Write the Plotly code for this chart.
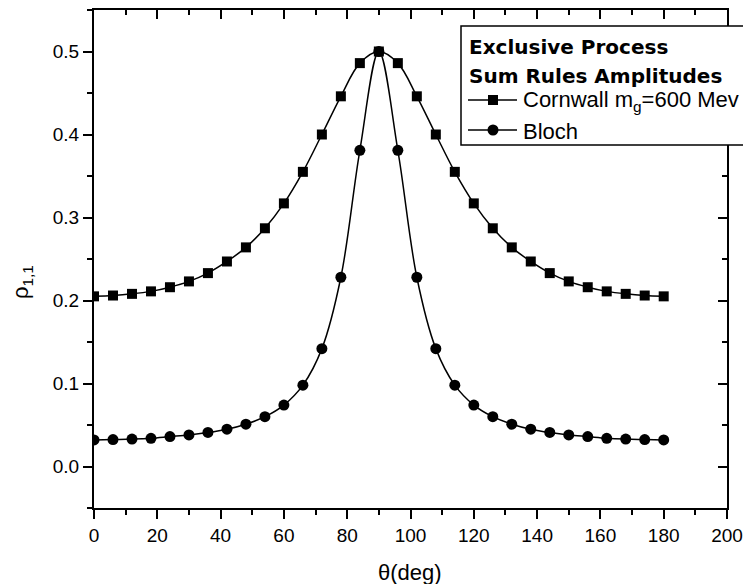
import plotly.graph_objects as go

# ---- data ----
theta = [0, 6, 12, 18, 24, 30, 36, 42, 48, 54, 60, 66, 72, 78, 84, 90,
         96, 102, 108, 114, 120, 126, 132, 138, 144, 150, 156, 162, 168, 174, 180]
cornwall = [0.205, 0.206, 0.208, 0.211, 0.216, 0.223, 0.233, 0.247, 0.264, 0.287,
            0.317, 0.355, 0.400, 0.446, 0.486, 0.500, 0.486, 0.446, 0.400, 0.355,
            0.317, 0.287, 0.264, 0.247, 0.233, 0.223, 0.216, 0.211, 0.208, 0.206, 0.205]
bloch = [0.032, 0.0325, 0.033, 0.034, 0.036, 0.038, 0.041, 0.045, 0.051, 0.060,
         0.074, 0.098, 0.142, 0.228, 0.381, 0.500, 0.381, 0.228, 0.142, 0.098,
         0.074, 0.060, 0.051, 0.045, 0.041, 0.038, 0.036, 0.034, 0.033, 0.0325, 0.032]
legend_title = ["Exclusive Process", "Sum Rules Amplitudes"]
series_names = ["Cornwall m<sub>g</sub>=600 Mev", "Bloch"]
x_title = "θ(deg)"
y_title = "ρ<sub>1,1</sub>"

# ---- layout geometry ----
# The page body has an 8px margin, so the figure is drawn 8px smaller and
# all screen-pixel positions are shifted by that offset.
OFF = 8
SW, SH = 751, 584                       # screen size
W, H = SW - OFF, SH - OFF               # figure size
PL, PT, PR, PB = 94, 10, 727, 508       # plot area on screen
L, T = PL - OFF, PT - OFF
R, B = W - (PR - OFF), H - (PB - OFF)
pw, ph = W - L - R, H - T - B


def px(x):
    """screen x pixel -> paper coordinate"""
    return (x - PL) / (PR - PL)


def py(y):
    """screen y pixel -> paper coordinate"""
    return (PB - y) / (PB - PT)


FONT = "Liberation Sans, Arial, sans-serif"

fig = go.Figure()
fig.add_trace(go.Scatter(
    x=theta, y=cornwall, mode="lines+markers", name="Cornwall",
    line=dict(color="black", width=1.5, shape="spline", smoothing=1.0),
    marker=dict(symbol="square", size=10, color="black"), showlegend=False))
fig.add_trace(go.Scatter(
    x=theta, y=bloch, mode="lines+markers", name="Bloch",
    line=dict(color="black", width=1.5, shape="spline", smoothing=1.0),
    marker=dict(symbol="circle", size=11, color="black"), showlegend=False))
# empty trace to host the mirrored (top/right) axes
fig.add_trace(go.Scatter(x=[None], y=[None], xaxis="x2", yaxis="y2", showlegend=False,
                         hoverinfo="skip"))

ax_common = dict(showline=True, linewidth=2, linecolor="black", showgrid=False,
                 zeroline=False, tickwidth=2, tickcolor="black", ticklen=9)

fig.update_layout(
    width=W, height=H,
    margin=dict(l=L, r=R, t=T, b=B, pad=0),
    paper_bgcolor="white", plot_bgcolor="white",
    font=dict(family=FONT, color="black"),
    xaxis=dict(range=[0, 200], tick0=0, dtick=20, ticks="outside",
               tickfont=dict(size=19, family=FONT, color="black"),
               minor=dict(dtick=10, ticks="outside", ticklen=5, tickwidth=2,
                          tickcolor="black", showgrid=False),
               **ax_common),
    yaxis=dict(range=[-0.05, 0.55], tick0=0, dtick=0.1, tickformat=".1f",
               ticks="outside", tickfont=dict(size=19, family=FONT, color="black"),
               minor=dict(dtick=0.05, ticks="outside", ticklen=5, tickwidth=2,
                          tickcolor="black", showgrid=False),
               **ax_common),
    xaxis2=dict(range=[0, 200], tick0=0, dtick=20, ticks="inside", overlaying="x",
                side="top", anchor="y", showticklabels=False,
                minor=dict(dtick=10, ticks="inside", ticklen=5, tickwidth=2,
                           tickcolor="black", showgrid=False),
                **ax_common),
    yaxis2=dict(range=[-0.05, 0.55], tick0=0, dtick=0.1, ticks="inside",
                overlaying="y", side="right", anchor="x", showticklabels=False,
                minor=dict(dtick=0.05, ticks="inside", ticklen=5, tickwidth=2,
                           tickcolor="black", showgrid=False),
                **ax_common),
)

# ---- manual legend ----
shapes = [
    dict(type="rect", xref="paper", yref="paper", x0=px(461), x1=px(775),
         y0=py(145), y1=py(26), fillcolor="white",
         line=dict(color="black", width=1.5), layer="above"),
    dict(type="line", xref="paper", yref="paper", x0=px(468), x1=px(517),
         y0=py(100), y1=py(100), line=dict(color="black", width=1.5), layer="above"),
    dict(type="rect", xref="paper", yref="paper", x0=px(488), x1=px(498),
         y0=py(105), y1=py(95), fillcolor="black", line=dict(width=0), layer="above"),
    dict(type="line", xref="paper", yref="paper", x0=px(468), x1=px(517),
         y0=py(130), y1=py(130), line=dict(color="black", width=1.5), layer="above"),
    dict(type="circle", xref="paper", yref="paper", x0=px(487.5), x1=px(498.5),
         y0=py(135.5), y1=py(124.5), fillcolor="black", line=dict(width=0),
         layer="above"),
]
fig.update_layout(shapes=shapes)

annotations = [
    dict(text="<b>" + legend_title[0] + "</b>", x=px(467), y=py(47), xanchor="left",
         yanchor="middle", font=dict(family="DejaVu Sans", size=20, color="black")),
    dict(text="<b>" + legend_title[1] + "</b>", x=px(467), y=py(76), xanchor="left",
         yanchor="middle", font=dict(family="DejaVu Sans", size=20, color="black")),
    dict(text=series_names[0], x=px(521), y=py(101), xanchor="left",
         yanchor="middle", font=dict(family=FONT, size=22, color="black")),
    dict(text=series_names[1], x=px(521), y=py(131), xanchor="left",
         yanchor="middle", font=dict(family=FONT, size=22, color="black")),
    dict(text=x_title, x=px(410), y=py(572), xanchor="center", yanchor="middle",
         font=dict(family=FONT, size=22, color="black")),
    dict(text=y_title, x=px(22), y=py(282), xanchor="center", yanchor="middle",
         textangle=-90, font=dict(family=FONT, size=22, color="black")),
]
for a in annotations:
    a.update(xref="paper", yref="paper", showarrow=False)
fig.update_layout(annotations=annotations)

fig.write_html("out.html")
